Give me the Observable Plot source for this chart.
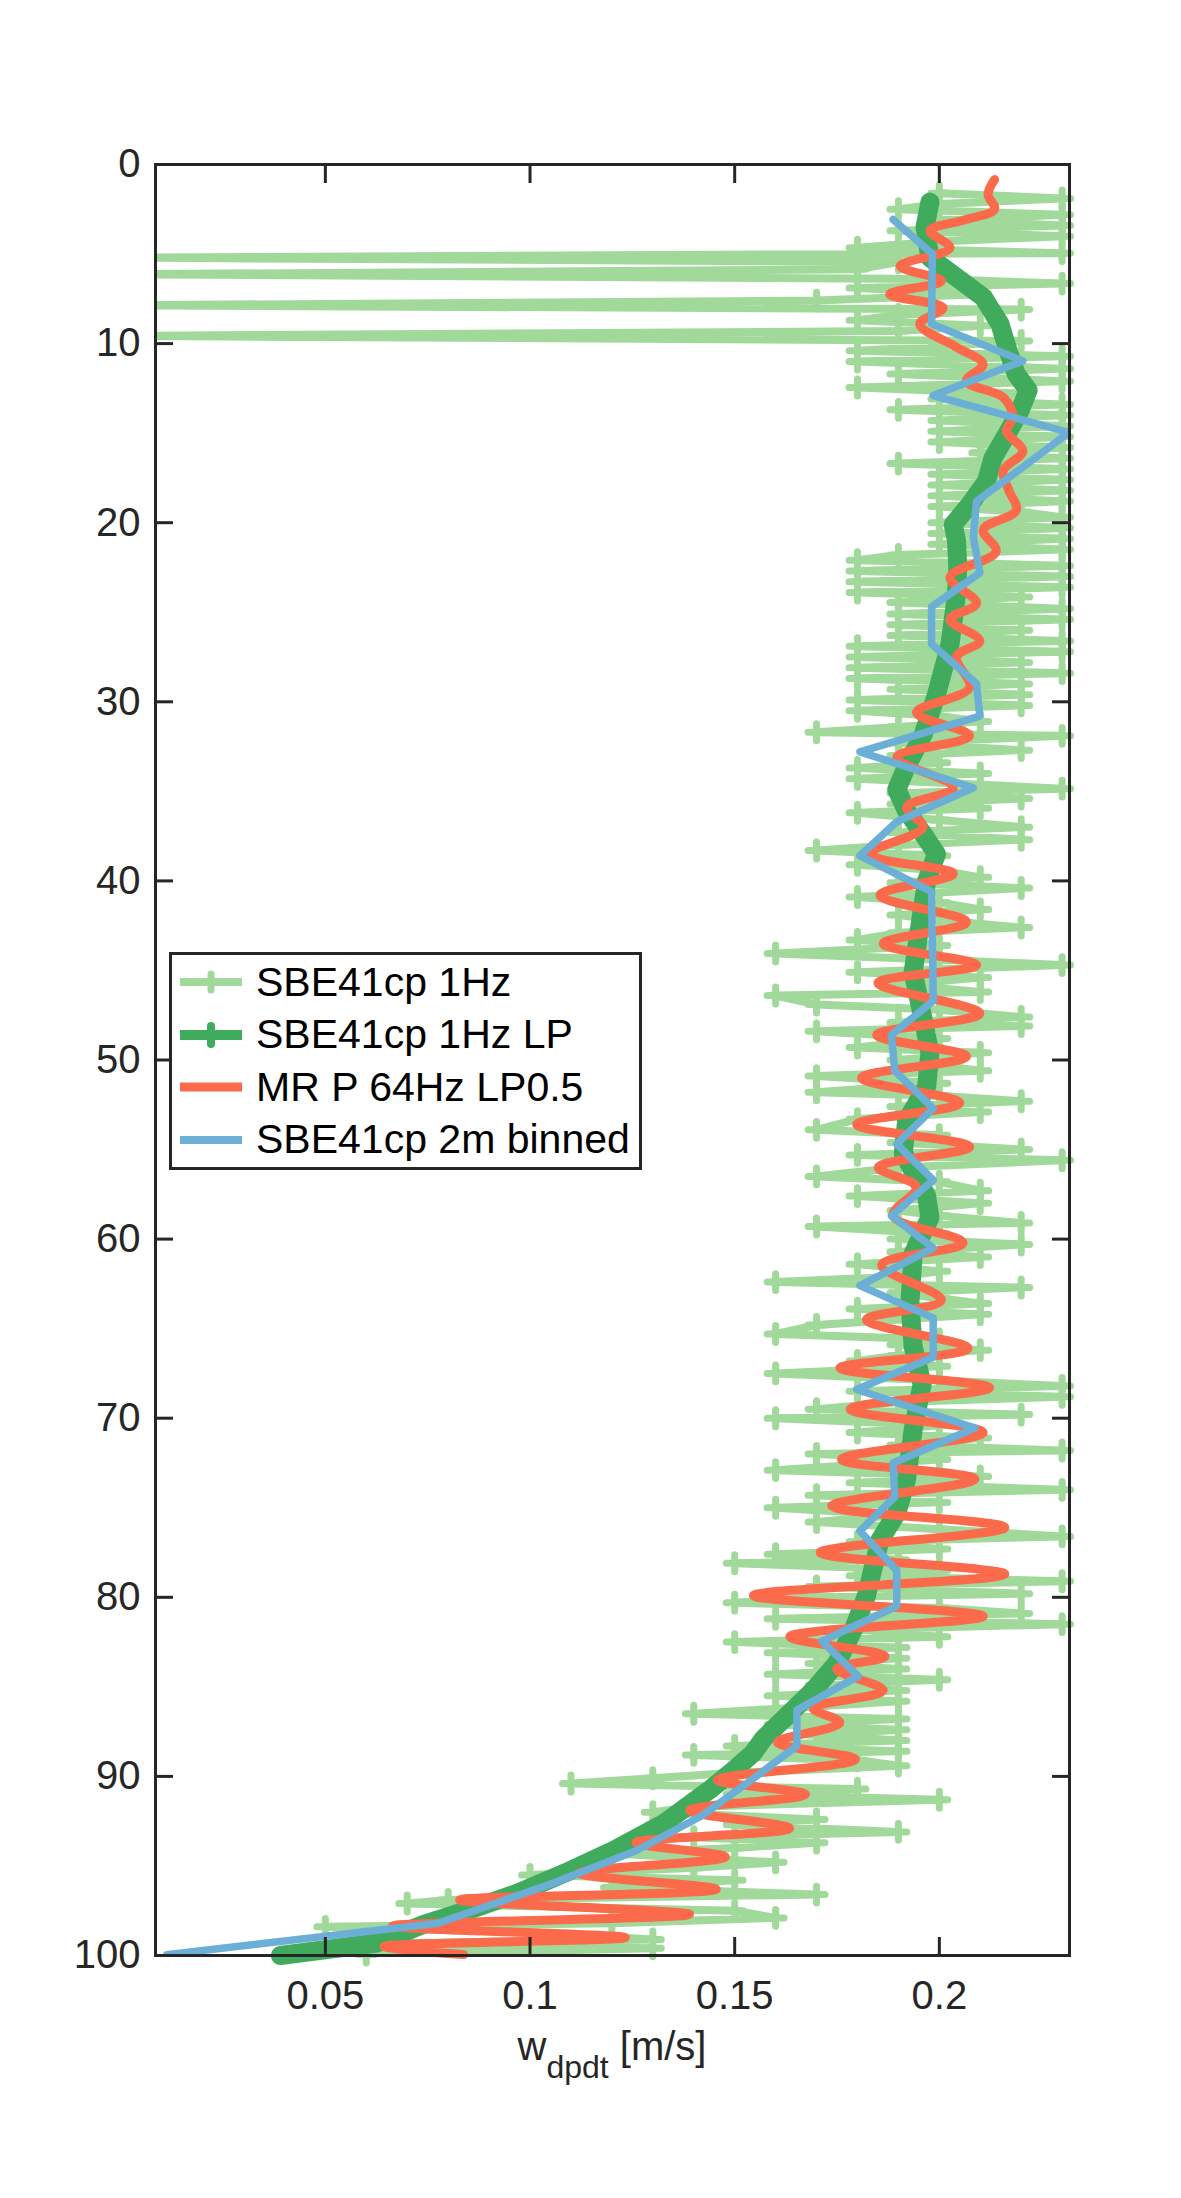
<!DOCTYPE html>
<html>
<head>
<meta charset="utf-8">
<script src="https://cdn.jsdelivr.net/npm/d3@7"></script>
<script src="https://cdn.jsdelivr.net/npm/@observablehq/plot@0.6"></script>
<style>
  html, body { margin: 0; padding: 0; background: #fff; }
  #wrap { position: relative; width: 1181px; height: 2198px; overflow: hidden; }
  #legend {
    position: absolute; left: 169px; top: 952px; width: 467px; height: 211px;
    border: 3px solid #262626; background: #fff; padding-top: 1px; box-sizing: content-box;
    font-family: "Liberation Sans", Arial, Helvetica, sans-serif; font-size: 41px; color: #000;
  }
  .row { height: 52.5px; display: flex; align-items: center; }
  .row svg { margin-left: 8px; margin-right: 14px; flex: none; }
  .row span { white-space: nowrap; line-height: 1; }
</style>
</head>
<body>
<div id="wrap"></div>
<script>
// ---------------- data ----------------
const xTicks = [0.05, 0.1, 0.15, 0.2];
const yTicks = [0, 10, 20, 30, 40, 50, 60, 70, 80, 90, 100];
const seriesNames = ["SBE41cp 1Hz", "SBE41cp 1Hz LP", "MR P 64Hz LP0.5", "SBE41cp 2m binned"];
const xLabelMain = "w";
const xLabelSub = "dpdt";
const xLabelUnit = " [m/s]";

// SBE41cp 1Hz: [depth, w]
const sbe1Hz = [
  [1.6,.20],[1.9,.23],[2.2,.20],[2.5,.19],[2.8,.23],[3.1,.20],[3.4,.23],[3.7,.19],[4.0,.23],[4.3,.20],
  [4.65,.18],[4.95,.23],[5.2,0],[5.45,.19],[5.85,.18],[6.13,0],[6.4,.20],[6.65,.23],[6.9,.18],[7.25,.21],
  [7.6,.17],[7.86,0],[8.1,.22],[8.4,.19],[8.7,.18],[9.0,.21],[9.3,.19],[9.57,0],[9.85,.22],[10.15,.20],
  [10.4,.18],[10.7,.23],[11.0,.18],[11.4,.23],[11.7,.19],[12.1,.23],[12.45,.18],[12.8,.22],[13.1,.20],[13.4,.23],
  [13.7,.19],[14.0,.23],[14.3,.20],[14.6,.23],[14.9,.20],[15.2,.23],[15.5,.20],[15.8,.23],[16.1,.21],[16.4,.23],
  [16.7,.19],[17.0,.23],[17.3,.20],[17.6,.23],[17.9,.20],[18.2,.23],[18.5,.20],[18.8,.23],[19.1,.20],[19.4,.22],
  [19.7,.23],[20.0,.20],[20.3,.23],[20.6,.20],[20.9,.23],[21.2,.20],[21.5,.23],[21.8,.19],[22.1,.18],[22.4,.23],
  [22.7,.18],[23.0,.23],[23.3,.18],[23.6,.23],[23.9,.18],[24.15,.22],[24.45,.19],[24.8,.23],[25.1,.19],[25.4,.23],
  [25.7,.19],[26.0,.22],[26.3,.19],[26.6,.23],[26.9,.18],[27.2,.23],[27.5,.18],[27.8,.22],[28.1,.18],[28.4,.23],
  [28.7,.18],[29.0,.22],[29.3,.19],[29.6,.22],[29.9,.18],[30.2,.22],[30.5,.18],[30.8,.20],[31.1,.21],[31.4,.19],
  [31.7,.17],[31.9,.23],[32.3,.19],[32.7,.22],[33.0,.19],[33.4,.20],[33.7,.18],[34.0,.21],[34.3,.18],[34.85,.23],
  [35.1,.19],[35.4,.22],[35.7,.19],[35.95,.21],[36.2,.18],[36.6,.20],[37.0,.22],[37.3,.19],[37.7,.22],[38.0,.19],
  [38.3,.17],[38.6,.20],[39.1,.18],[39.4,.20],[39.8,.21],[40.1,.19],[40.4,.22],[40.9,.18],[41.2,.20],[41.6,.21],
  [41.9,.19],[42.2,.20],[42.6,.22],[42.9,.19],[43.3,.18],[43.6,.20],[44.05,.16],[44.4,.20],[44.7,.23],[45.1,.18],
  [45.4,.21],[45.8,.19],[46.2,.21],[46.4,.16],[46.9,.17],[47.2,.20],[47.6,.22],[47.9,.19],[48.1,.22],[48.4,.17],
  [48.8,.20],[49.3,.18],[49.6,.21],[50.0,.19],[50.3,.20],[50.6,.21],[50.9,.17],[51.3,.20],[51.8,.17],[52.0,.20],
  [52.3,.22],[52.6,.19],[52.9,.21],[53.3,.18],[53.9,.17],[54.2,.20],[54.6,.19],[55.0,.22],[55.3,.18],[55.6,.23],
  [56.0,.19],[56.5,.17],[56.8,.20],[57.3,.21],[57.6,.18],[58.0,.21],[58.4,.19],[58.7,.20],[59.1,.22],[59.3,.17],
  [59.7,.20],[60.0,.19],[60.3,.22],[60.7,.19],[61.0,.21],[61.4,.18],[61.8,.20],[62.1,.19],[62.4,.16],[62.7,.22],
  [63.0,.19],[63.3,.20],[63.6,.21],[63.9,.18],[64.2,.21],[64.8,.17],[65.3,.16],[65.6,.20],[65.9,.19],[66.2,.21],
  [66.5,.19],[66.8,.18],[67.1,.20],[67.5,.16],[67.9,.20],[68.2,.23],[68.5,.18],[68.8,.23],[69.1,.19],[69.5,.17],
  [69.8,.22],[70.0,.16],[70.4,.20],[70.8,.18],[71.1,.21],[71.5,.19],[71.8,.23],[72.0,.17],[72.3,.20],[72.6,.18],
  [72.9,.16],[73.25,.21],[73.6,.18],[74.0,.23],[74.3,.17],[74.7,.20],[75.0,.16],[75.4,.19],[75.8,.17],[76.2,.20],
  [76.6,.23],[76.9,.18],[77.3,.20],[77.6,.16],[77.9,.19],[78.1,.15],[78.5,.20],[78.8,.18],[79.1,.23],[79.4,.17],
  [79.8,.22],[80.0,.17],[80.3,.15],[80.6,.20],[80.9,.22],[81.2,.16],[81.5,.23],[81.8,.18],[82.2,.20],[82.5,.15],
  [82.8,.19],[83.1,.16],[83.4,.19],[83.7,.17],[84.0,.19],[84.3,.16],[84.6,.20],[84.9,.17],[85.2,.19],[85.5,.16],
  [85.8,.19],[86.1,.17],[86.5,.14],[86.8,.19],[87.1,.16],[87.4,.19],[87.7,.17],[88.0,.19],[88.3,.15],[88.6,.19],
  [88.8,.14],[89.1,.18],[89.4,.19],[89.8,.15],[90.1,.13],[90.4,.11],[90.7,.18],[91.0,.15],[91.3,.20],[91.7,.14],
  [92.0,.13],[92.4,.17],[92.7,.15],[93.1,.19],[93.4,.14],[93.7,.17],[94.0,.15],[94.3,.12],[94.8,.16],[95.1,.14],
  [95.5,.10],[95.8,.15],[96.2,.12],[96.6,.17],[96.9,.08],[97.1,.07],[97.5,.15],[97.9,.16],[98.2,.12],[98.4,.05],
  [98.7,.10],[99.1,.13],[99.35,.06],[99.6,.13],[99.95,.06]
];

// SBE41cp 1Hz LP: [depth, w]
const sbeLP = [
  [2.1,.1977],[3.5,.1965],[5.2,.1977],[6.3,.2042],[7.4,.2107],[8.9,.2148],[10.4,.2168],[11.7,.2188],[12.6,.2217],
  [13.8,.2196],[15.1,.2164],[16.4,.2131],[17.7,.2115],[19.0,.2074],[20.1,.2034],[21.0,.2042],[22.5,.2045],[24.0,.2042],
  [26.8,.2026],[29.6,.1993],[31.8,.1961],[33.6,.1920],[34.9,.1896],[36.1,.1920],[37.4,.1961],[38.5,.1993],[40.0,.1969],
  [42.6,.1952],[45.1,.1936],[47.8,.1961],[49.6,.1977],[51.5,.1969],[53.4,.1920],[55.2,.1912],[57.6,.1969],[58.8,.1977],
  [60.8,.1936],[63.6,.1928],[66.0,.1936],[68.1,.1958],[70.65,.1936],[73.4,.1920],[75.3,.1896],[76.8,.1855],[78.3,.1839],
  [79.9,.1822],[81.8,.1790],[83.7,.1749],[85.2,.1692],[86.4,.1638],[87.9,.1570],[88.7,.1545],[89.7,.1495],[90.7,.1442],
  [92.6,.1329],[94.1,.1207],[95.4,.1085],[96.5,.0972],[97.4,.0858],[98.3,.0736],[99.3,.0627],[100,.0390]
];

// MR P 64Hz LP0.5: [depth, w]
const mrP = [
  [0.84,.2135],[1.67,.2119],[2.5,.2135],[3.1,.2060],[3.7,.1977],[4.65,.2026],[5.67,.1904],[6.5,.2005],[7.25,.1879],
  [8.0,.2009],[8.9,.1952],[10.2,.2042],[11.15,.2107],[12.1,.2066],[13.0,.2156],[14.1,.2180],[14.9,.2164],[16.0,.2204],
  [17.1,.2156],[18.2,.2170],[19.3,.2188],[20.4,.2107],[21.6,.2139],[23.05,.2026],[24.5,.2091],[25.4,.2026],[26.6,.2099],
  [27.5,.2042],[29.2,.2074],[30.6,.1944],[31.9,.2074],[33.1,.1896],[34.8,.2034],[35.9,.1920],[37.0,.1960],[38.5,.1830],
  [39.6,.2034],[40.8,.1855],[42.3,.2066],[43.5,.1863],[44.7,.2091],[45.7,.1850],[47.4,.2099],[48.6,.1847],[49.8,.2066],
  [51.0,.1810],[52.4,.2050],[53.6,.1798],[54.85,.2074],[56.0,.1851],[57.1,.1944],[58.7,.1887],[60.2,.2058],[61.45,.1859],
  [63.4,.2005],[64.5,.1822],[66.1,.2070],[67.2,.1757],[68.3,.2123],[69.5,.1782],[70.8,.2107],[72.3,.1761],[73.4,.2087],
  [74.9,.1737],[76.1,.2160],[77.5,.1709],[78.7,.2160],[79.9,.1546],[81.06,.2107],[82.2,.1635],[83.3,.1867],[84.0,.1749],
  [85.2,.1863],[86.2,.1692],[87.0,.1757],[88.1,.1605],[89.05,.1795],[90.2,.1458],[91.0,.1673],[91.9,.1390],[92.9,.1634],
  [93.7,.1259],[94.5,.1477],[95.4,.1120],[96.3,.1455],[96.9,.0828],[97.7,.1390],[98.35,.0664],[99.0,.1233],[99.5,.0643],
  [99.95,.0838]
];

// SBE41cp 2m binned: [depth, w]
const sbeBinned = [
  [3.07,.1887],[5.0,.1983],[7.0,.1982],[8.9,.1981],[10.97,.2204],[12.9,.1985],[14.96,.2316],[16.9,.2204],[18.8,.2091],
  [20.8,.2083],[22.8,.2099],[24.7,.1981],[26.77,.1981],[29.0,.2091],[30.8,.2099],[32.8,.1806],[34.8,.2083],[36.7,.1896],
  [38.6,.1806],[40.6,.1981],[42.6,.1982],[44.6,.1984],[46.7,.1985],[48.6,.1883],[50.6,.1891],[52.7,.1985],[54.7,.1896],
  [56.7,.1985],[58.7,.1883],[60.5,.1985],[62.6,.1806],[64.4,.1985],[66.6,.1985],[68.4,.1798],[70.55,.2087],[72.5,.1887],
  [74.4,.1891],[76.3,.1806],[78.5,.1896],[80.5,.1896],[82.45,.1713],[84.4,.1802],[86.3,.1652],[88.3,.1652],[90.3,.1535],
  [92.2,.1420],[94.15,.1259],[96.1,.1040],[98.2,.0775],[99.95,.0113]
];

// ---------------- styles ----------------
const colors = ["#a1d99b", "#41ab5d", "#fb6a4a", "#6baed6"];
const axisColor = "#262626";
const xDomain = [0.0085, 0.2318];

const toObj = arr => arr.map(([d, w]) => ({d, w}));
const hz = toObj(sbe1Hz), lp = toObj(sbeLP), mr = toObj(mrP), bin = toObj(sbeBinned);

const plot = Plot.plot({
  width: 1181,
  height: 2198,
  marginTop: 164,
  marginBottom: 243,
  marginLeft: 155,
  marginRight: 112,
  style: {fontFamily: "'Liberation Sans', Arial, Helvetica, sans-serif", fontSize: "40px", color: axisColor, background: "#fff"},
  x: {domain: xDomain},
  y: {domain: [0, 100], reverse: true},
  marks: [
    Plot.line(hz, {x: "w", y: "d", stroke: colors[0], strokeWidth: 8, strokeLinejoin: "round", clip: true}),
    Plot.dot(hz.filter(p => p.w > xDomain[0]), {x: "w", y: "d", symbol: "plus", r: 5.5, stroke: colors[0], fill: "none", strokeWidth: 7, strokeLinecap: "round"}),
    Plot.line(lp, {x: "w", y: "d", stroke: colors[1], strokeWidth: 19, strokeLinejoin: "round", strokeLinecap: "round"}),
    Plot.line(mr, {x: "w", y: "d", stroke: colors[2], strokeWidth: 9, curve: "catmull-rom", strokeLinejoin: "round"}),
    Plot.line(bin, {x: "w", y: "d", stroke: colors[3], strokeWidth: 7.5, strokeLinejoin: "round", clip: true}),
    Plot.frame({stroke: axisColor, strokeWidth: 3}),
    Plot.axisX(xTicks, {anchor: "bottom", tickSize: -18, tickPadding: 43, strokeWidth: 3, label: null, tickFormat: d => String(d), fill: axisColor}),
    Plot.axisX(xTicks, {anchor: "top", tickSize: -18, strokeWidth: 3, label: null, tickFormat: () => ""}),
    Plot.axisY(yTicks, {anchor: "left", tickSize: -18, tickPadding: 33, strokeWidth: 3, label: null, tickFormat: d => String(d), fill: axisColor}),
    Plot.axisY(yTicks, {anchor: "right", tickSize: -18, strokeWidth: 3, label: null, tickFormat: () => ""})
  ]
});

document.getElementById("wrap").appendChild(plot);

// x-axis label with subscript
const xs = plot.scale("x");
const cx = (xs.range[0] + xs.range[1]) / 2;
const lab = d3.select(plot).append("text")
  .attr("x", cx).attr("y", 2060)
  .attr("text-anchor", "middle")
  .attr("fill", axisColor)
  .style("font-family", "'Liberation Sans', Arial, Helvetica, sans-serif")
  .style("font-size", "40px")
  .style("white-space", "pre");
lab.append("tspan").text(xLabelMain);
lab.append("tspan").attr("dy", 18).style("font-size", "32px").text(xLabelSub);
lab.append("tspan").attr("dy", -18).text(xLabelUnit);

// legend
const legend = document.createElement("div");
legend.id = "legend";
const sampleWidths = [8, 10, 9, 8];
seriesNames.forEach((name, i) => {
  const row = document.createElement("div");
  row.className = "row";
  let marker = "";
  if (i < 2) {
    marker = `<line x1="31" x2="31" y1="${i === 0 ? 7 : 6}" y2="${i === 0 ? 23 : 24}" stroke="${colors[i]}" stroke-width="${i === 0 ? 7 : 8}" stroke-linecap="round"/>`;
  }
  row.innerHTML = `<svg width="62" height="30"><line x1="0" x2="62" y1="15" y2="15" stroke="${colors[i]}" stroke-width="${sampleWidths[i]}"/>${marker}</svg><span>${name}</span>`;
  legend.appendChild(row);
});
document.getElementById("wrap").appendChild(legend);
</script>
</body>
</html>
